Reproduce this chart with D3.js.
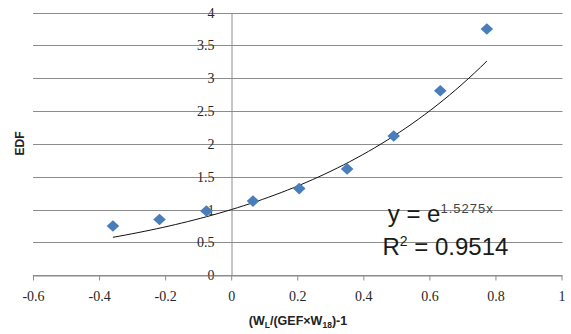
<!DOCTYPE html>
<html>
<head>
<meta charset="utf-8">
<script src="https://cdn.jsdelivr.net/npm/d3@7"></script>
<style>
  body { margin: 0; background: #fff; }
  svg { display: block; }
</style>
</head>
<body>
<svg id="chart" width="571" height="334"></svg>
<script>
// values
var xValues = [-0.358, -0.217, -0.075, 0.066, 0.206, 0.351, 0.492, 0.633, 0.774];
var edfValues = [0.75, 0.85, 0.98, 1.13, 1.32, 1.62, 2.12, 2.81, 3.75];
var xTicks = [-0.6, -0.4, -0.2, 0, 0.2, 0.4, 0.6, 0.8, 1];
var yTicks = [0, 0.5, 1, 1.5, 2, 2.5, 3, 3.5, 4];
var trendK = 1.5275; // y = e^(kx) shown on chart
var rSquared = "0.9514";

var svg = d3.select("svg#chart");

var xScale = d3.scaleLinear().domain([-0.6, 1]).range([33, 561.5]);
var yScale = d3.scaleLinear().domain([0, 4]).range([275.3, 12.6]);

var serif = "'Liberation Serif', 'DejaVu Serif', serif";
var sans = "'Liberation Sans', Arial, sans-serif";

// gridlines
svg.append("g")
    .selectAll("line")
    .data(yTicks)
    .enter().append("line")
    .attr("x1", xScale(-0.6))
    .attr("x2", xScale(1) + 1)
    .attr("y1", function(d) { return Math.round(yScale(d)) + 0.5; })
    .attr("y2", function(d) { return Math.round(yScale(d)) + 0.5; })
    .attr("stroke", "#8c8c8c")
    .attr("stroke-width", 1);

// y axis sits at x = 0
var yAxis = d3.axisLeft(yScale)
    .tickValues(yTicks)
    .tickSize(0)
    .tickPadding(17)
    .tickFormat(function(d) { return String(d); });

var yGroup = svg.append("g")
    .attr("transform", "translate(" + (Math.round(xScale(0)) + 0.5) + ",0)")
    .call(yAxis);
yGroup.select(".domain").attr("stroke", "#8c8c8c");
yGroup.selectAll("text")
    .style("font-family", serif)
    .style("font-size", "14px")
    .attr("fill", "#262626");

// x axis
var xAxis = d3.axisBottom(xScale)
    .tickValues(xTicks)
    .tickSizeInner(5)
    .tickSizeOuter(0)
    .tickPadding(11)
    .tickFormat(function(d) { return String(d); });

var xGroup = svg.append("g")
    .attr("transform", "translate(0," + (Math.round(yScale(0)) + 0.5) + ")")
    .call(xAxis);
xGroup.select(".domain").attr("stroke", "#8c8c8c");
xGroup.selectAll(".tick line").attr("stroke", "#8c8c8c");
xGroup.selectAll("text")
    .style("font-family", serif)
    .style("font-size", "14px")
    .attr("fill", "#262626");

// trendline from the fitted equation
var xMin = d3.min(xValues), xMax = d3.max(xValues);
var trendData = d3.range(0, 61).map(function(i) {
    var x = xMin + (xMax - xMin) * i / 60;
    return [x, Math.exp(trendK * x)];
});
var line = d3.line()
    .x(function(d) { return xScale(d[0]); })
    .y(function(d) { return yScale(d[1]); })
    .curve(d3.curveMonotoneX);

svg.append("path")
    .datum(trendData)
    .attr("d", line)
    .attr("fill", "none")
    .attr("stroke", "#111")
    .attr("stroke-width", 1);

// diamond markers
var points = xValues.map(function(x, i) { return { x: x, y: edfValues[i] }; });
svg.append("g")
    .selectAll("path")
    .data(points)
    .enter().append("path")
    .attr("d", "M0,-5.8L6.3,0L0,5.8L-6.3,0Z")
    .attr("transform", function(d) {
        return "translate(" + xScale(d.x) + "," + yScale(d.y) + ")";
    })
    .attr("fill", "#4a7ebb");

// equation
var eq = svg.append("text")
    .attr("x", xScale(0.474))
    .attr("y", 222)
    .style("font-family", sans)
    .style("font-size", "24px")
    .attr("fill", "#1a1a1a");
eq.append("tspan").text("y = e");
eq.append("tspan")
    .attr("dy", -9)
    .style("font-size", "13px")
    .style("letter-spacing", "1px")
    .attr("fill", "#444")
    .text(trendK + "x");

var r2 = svg.append("text")
    .attr("x", xScale(0.458))
    .attr("y", 255)
    .style("font-family", sans)
    .style("font-size", "24px")
    .attr("fill", "#1a1a1a");
r2.append("tspan").text("R");
r2.append("tspan")
    .attr("dy", -9)
    .style("font-size", "14px")
    .text("2");
r2.append("tspan")
    .attr("dy", 9)
    .text(" = " + rSquared);

// axis titles
var xTitle = svg.append("text")
    .attr("x", 298)
    .attr("y", 325)
    .style("font-family", sans)
    .style("font-size", "12.5px")
    .style("font-weight", "bold")
    .style("text-anchor", "middle")
    .attr("fill", "#222");
xTitle.append("tspan").text("(W");
xTitle.append("tspan").attr("dy", 3).style("font-size", "8.5px").text("L");
xTitle.append("tspan").attr("dy", -3).text("/(GEF\u00d7W");
xTitle.append("tspan").attr("dy", 3).style("font-size", "8.5px").text("18");
xTitle.append("tspan").attr("dy", -3).text(")-1");

svg.append("text")
    .attr("transform", "translate(23.5,143.5) rotate(-90)")
    .style("font-family", sans)
    .style("font-size", "12px")
    .style("font-weight", "bold")
    .style("text-anchor", "middle")
    .attr("fill", "#222")
    .text("EDF");
</script>
</body>
</html>
